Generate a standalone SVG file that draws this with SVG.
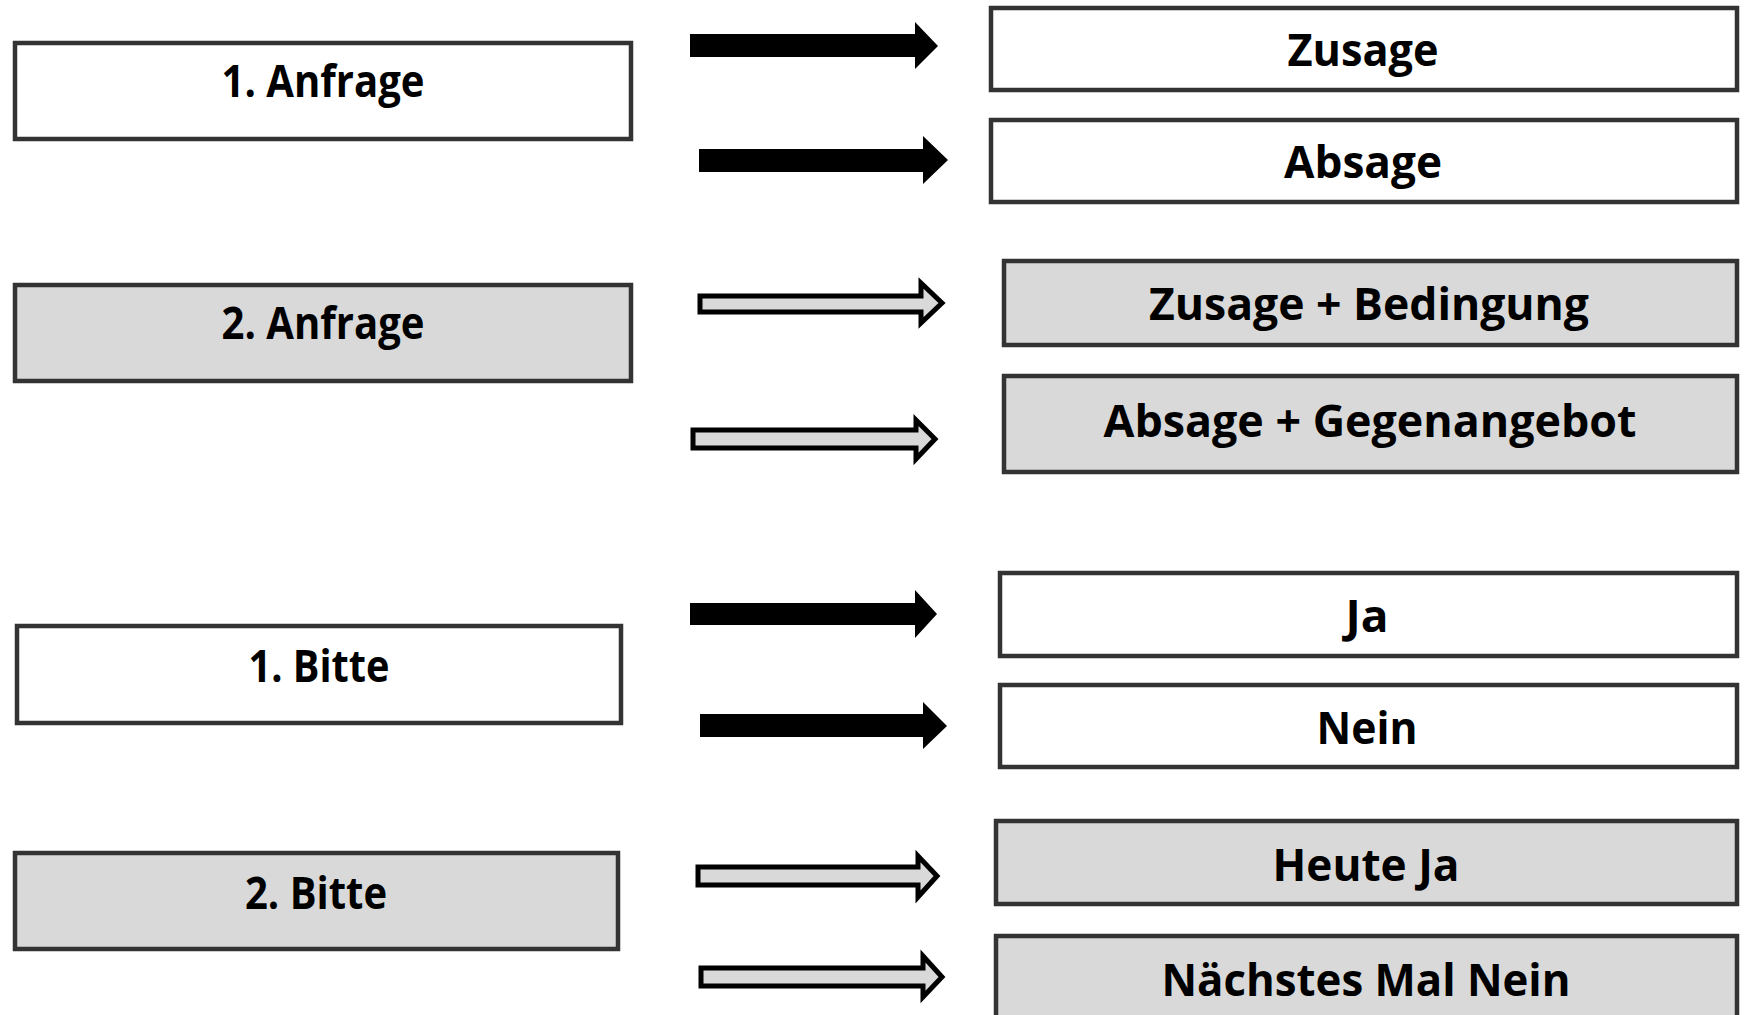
<svg xmlns="http://www.w3.org/2000/svg" width="1745" height="1015" viewBox="0 0 1745 1015">
<style>
.box{stroke:#333;stroke-width:4.5}
.w{fill:#fff}
.g{fill:#d9d9d9}
.t{font-family:"Open Sans","Liberation Sans",sans-serif;font-weight:bold;font-size:45px;fill:#000;text-anchor:middle}
.solid{fill:#000}
.hollow{fill:#d9d9d9;stroke:#000;stroke-width:5;stroke-linejoin:miter}
</style>
<rect width="1745" height="1015" fill="#fff"/>
<g id="n_anfrage1"><rect class="box w" x="15" y="43" width="616" height="96"/><text class="t" x="323" y="97" textLength="203" lengthAdjust="spacingAndGlyphs">1. Anfrage</text></g>
<g id="n_anfrage2"><rect class="box g" x="15" y="285" width="616" height="96"/><text class="t" x="323" y="339" textLength="203" lengthAdjust="spacingAndGlyphs">2. Anfrage</text></g>
<g id="n_bitte1"><rect class="box w" x="17" y="626" width="604" height="97"/><text class="t" x="319" y="682" textLength="141" lengthAdjust="spacingAndGlyphs">1. Bitte</text></g>
<g id="n_bitte2"><rect class="box g" x="15" y="853" width="603" height="96"/><text class="t" x="316" y="909" textLength="142" lengthAdjust="spacingAndGlyphs">2. Bitte</text></g>
<g id="n_zusage"><rect class="box w" x="991" y="8" width="746" height="82"/><text class="t" x="1363" y="66" textLength="151" lengthAdjust="spacingAndGlyphs">Zusage</text></g>
<g id="n_absage"><rect class="box w" x="991" y="120" width="746" height="82"/><text class="t" x="1363" y="178" textLength="158" lengthAdjust="spacingAndGlyphs">Absage</text></g>
<g id="n_zusage_bed"><rect class="box g" x="1004" y="261" width="733" height="84"/><text class="t" x="1369" y="320" textLength="440" lengthAdjust="spacingAndGlyphs">Zusage + Bedingung</text></g>
<g id="n_absage_geg"><rect class="box g" x="1004" y="376" width="733" height="96"/><text class="t" x="1370" y="437" textLength="533" lengthAdjust="spacingAndGlyphs">Absage + Gegenangebot</text></g>
<g id="n_ja"><rect class="box w" x="1000" y="573" width="737" height="83"/><text class="t" x="1367" y="632" textLength="43" lengthAdjust="spacingAndGlyphs">Ja</text></g>
<g id="n_nein"><rect class="box w" x="1000" y="685" width="737" height="82"/><text class="t" x="1367" y="744" textLength="101" lengthAdjust="spacingAndGlyphs">Nein</text></g>
<g id="n_heute_ja"><rect class="box g" x="996" y="821" width="741" height="83"/><text class="t" x="1366" y="881" textLength="187" lengthAdjust="spacingAndGlyphs">Heute Ja</text></g>
<g id="n_naechstes"><rect class="box g" x="996" y="936" width="741" height="100"/><text class="t" x="1366" y="996" textLength="409" lengthAdjust="spacingAndGlyphs">Nächstes Mal Nein</text></g>
<g id="connectors">
<polygon class="solid" points="690,34 915,34 915,22 938,46 915,69 915,57 690,57"/>
<polygon class="solid" points="699,149 923,149 923,136 948,160 923,184 923,172 699,172"/>
<polygon class="hollow" points="700,296 921,296 921,283 942,303 921,323 921,312 700,312"/>
<polygon class="hollow" points="693,430 916,430 916,420 935,439 916,459 916,448 693,448"/>
<polygon class="solid" points="690,603 915,603 915,590 937,614 915,638 915,625 690,625"/>
<polygon class="solid" points="700,714 923,714 923,702 947,726 923,749 923,737 700,737"/>
<polygon class="hollow" points="698,867 918,867 918,856 937,876 918,897 918,885 698,885"/>
<polygon class="hollow" points="701,968 923,968 923,956 942,977 923,997 923,986 701,986"/>
</g>
</svg>
